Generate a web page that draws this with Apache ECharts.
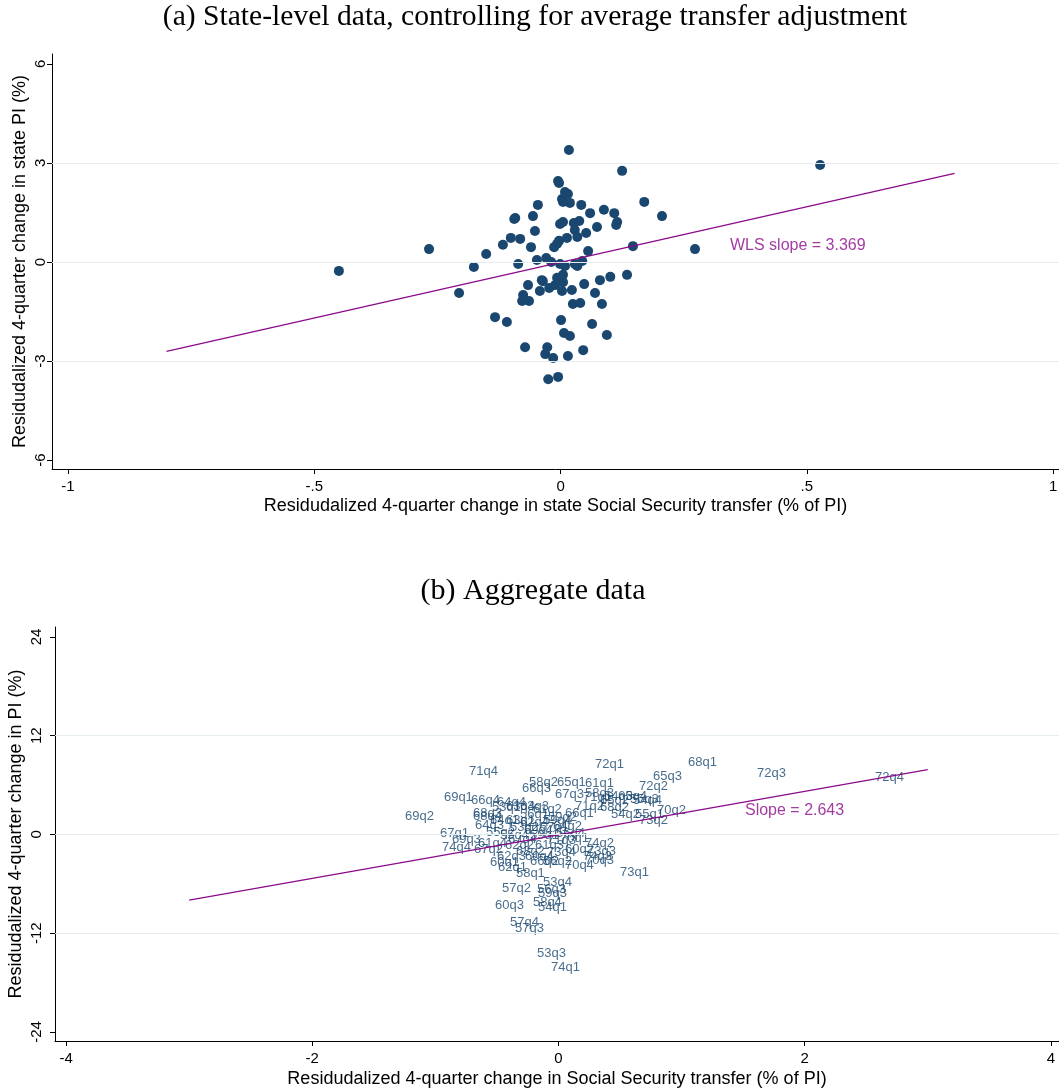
<!DOCTYPE html>
<html><head><meta charset="utf-8">
<script src="https://cdn.jsdelivr.net/npm/echarts@6/dist/echarts.min.js"></script>
<style>html,body{margin:0;padding:0;background:#fff}#c{width:1059px;height:1091px}</style>
</head><body><div id="c"></div>
<script>
// ---------- Panel (a): state-level points ----------
const stateX = [0.017,0.125,-0.005,-0.003,0.009,0.015,0.003,0.005,0.019,-0.046,0.042,0.170,0.060,0.088,0.109,-0.056,-0.092,-0.094,0.206,0.115,0.113,-0.001,0.005,0.027,0.038,-0.052,0.029,0.052,0.074,-0.101,-0.082,-0.117,0.034,0.013,-0.003,-0.007,-0.013,-0.060,-0.151,0.056,0.147,0.273,-0.048,-0.029,-0.019,-0.086,-0.001,0.009,0.029,0.034,0.044,0.135,0.101,0.080,0.048,0.005,0.005,-0.007,-0.011,-0.038,-0.036,-0.066,-0.023,-0.042,0.003,0.023,0.070,-0.076,-0.078,-0.064,0.084,0.025,0.040,-0.133,-0.109,0.001,0.064,0.007,0.019,0.094,-0.072,-0.027,-0.031,-0.015,0.015,0.046,-0.025,-0.005,-0.450,-0.267,-0.176,-0.206,0.527];
const stateY = [3.39,2.76,2.45,2.39,2.12,2.06,1.91,1.82,1.79,1.73,1.73,1.82,1.48,1.58,1.48,1.39,1.33,1.30,1.39,1.21,1.12,1.15,1.21,1.18,1.24,0.94,0.97,0.88,1.06,0.73,0.70,0.52,0.76,0.73,0.64,0.55,0.45,0.45,0.24,0.33,0.48,0.39,0.06,0.12,0.00,-0.06,-0.06,-0.12,-0.06,-0.12,0.03,-0.39,-0.45,-0.55,-0.67,-0.39,-0.61,-0.48,-0.70,-0.55,-0.58,-0.70,-0.79,-0.88,-0.88,-0.85,-0.94,-1.00,-1.18,-1.18,-1.27,-1.27,-1.24,-1.67,-1.82,-1.76,-1.88,-2.15,-2.24,-2.21,-2.58,-2.58,-2.79,-2.91,-2.85,-2.67,-3.55,-3.48,-0.27,0.39,-0.15,-0.94,2.94];
const slopeA = 3.369, interceptA = -0.01, fitRangeA = [-0.8, 0.8];
const labelA = 'WLS slope = 3.369', labelAPos = [0.344, 0.485];
const ticksAX = [-1, -0.5, 0, 0.5, 1];
const ticksAY = [-6, -3, 0, 3, 6];
const gridAY = [-3, 0, 3];

// ---------- Panel (b): aggregate quarterly points ----------
const aggLabels = ['53q1','53q2','53q3','53q4','54q1','54q2','54q3','54q4','55q1','55q2','55q3','55q4','56q1','56q2','56q3','56q4','57q1','57q2','57q3','57q4','58q1','58q2','58q3','58q4','59q1','59q2','59q3','59q4','60q1','60q2','60q3','60q4','61q1','61q2','61q3','61q4','62q1','62q2','62q3','62q4','63q1','63q2','63q3','63q4','64q1','64q2','64q3','64q4','65q1','65q2','65q3','65q4','66q1','66q2','66q3','66q4','67q1','67q2','67q3','67q4','68q1','68q2','68q3','68q4','69q1','69q2','69q3','69q4','70q1','70q2','70q3','70q4','71q1','71q2','71q3','71q4','72q1','72q2','72q3','72q4','73q1','73q2','73q3','73q4','74q1','74q2','74q3','74q4'];
const aggX = [-0.565,-0.418,-0.199,-0.150,-0.191,0.402,0.345,0.581,0.597,-0.613,0.556,-0.500,-0.337,-0.150,-0.199,-0.045,-0.175,-0.483,-0.378,-0.418,-0.370,-0.264,0.191,-0.232,-0.256,-0.110,-0.191,-0.150,-0.581,0.028,-0.540,-0.297,0.191,-0.232,-0.215,-0.678,-0.516,-0.459,-0.524,-0.337,-0.451,-0.370,-0.337,-0.451,-0.581,-0.069,-0.703,-0.524,-0.037,0.313,0.743,0.459,0.028,-0.256,-0.321,-0.735,-0.987,-0.711,-0.053,-0.435,1.028,0.313,-0.719,-0.719,-0.955,-1.271,-0.890,-0.305,-0.012,0.776,0.191,0.028,0.175,0.110,-0.118,-0.751,0.272,0.630,1.588,2.547,0.475,0.630,0.207,-0.118,-0.085,0.191,0.175,-0.971];
const aggY = [3.22,0.79,-14.52,-5.89,-8.93,2.37,4.56,4.07,2.37,0.30,4.31,-0.18,2.37,-3.34,-6.74,0.18,0.79,-6.62,-11.48,-10.75,-4.68,6.26,5.04,-8.32,-0.18,2.01,-7.11,1.64,-3.46,-1.88,-8.57,-2.73,6.14,2.98,-1.28,-1.15,-4.07,-1.28,-2.73,1.40,1.64,-2.01,3.46,3.34,1.76,1.03,1.15,3.83,6.26,4.19,6.99,4.56,2.61,-3.34,5.53,4.07,0.06,-1.88,4.80,-0.55,8.69,3.22,2.61,2.13,4.44,2.13,-0.55,0.43,-0.43,2.86,-3.22,-3.71,4.44,3.46,-0.67,7.60,8.45,5.77,7.35,6.87,-4.56,1.76,-2.01,-2.13,-16.22,-1.15,-2.73,-1.52];
const slopeB = 2.643, interceptB = -0.05, fitRangeB = [-3, 3];
const labelB = 'Slope = 2.643', labelBPos = [1.515, 2.86];
const ticksBX = [-4, -2, 0, 2, 4];
const ticksBY = [-24, -12, 0, 12, 24];
const gridBY = [-12, 0, 12];

const titleA = '(a) State-level data, controlling for average transfer adjustment';
const titleB = '(b) Aggregate data';
const xNameA = 'Residudalized 4-quarter change in state Social Security transfer (% of PI)';
const yNameA = 'Residudalized 4-quarter change in state PI (%)';
const xNameB = 'Residudalized 4-quarter change in Social Security transfer (% of PI)';
const yNameB = 'Residudalized 4-quarter change in PI (%)';

// ---------- styling ----------
const NAVY = '#1a476f', PURPLE = '#8b0a8b', GRID = '#e4ecee';
const SANS = '"Liberation Sans", Arial, sans-serif';
const SERIF = '"Liberation Serif", "Times New Roman", serif';
const fmtA = v => v === 0 ? '0' : String(v).replace('0.', '.');

function xAx(idx, min, max, ticks, name, gap, fmt) {
  return {
    type: 'value', gridIndex: idx, min, max,
    name, nameLocation: 'middle', nameGap: gap, nameMoveOverlap: false,
    nameTextStyle: { fontFamily: SANS, fontSize: 18, color: '#000' },
    axisLine: { show: true, onZero: false, lineStyle: { color: '#000', width: 1 } },
    axisTick: { show: true, inside: false, length: 5, customValues: ticks, lineStyle: { color: '#000' } },
    axisLabel: { customValues: ticks, formatter: fmt || (v => String(v)), margin: 10, fontFamily: SANS, fontSize: 15, color: '#000' },
    splitLine: { show: false }
  };
}
function yAx(idx, min, max, ticks, name, gap, lblMargin) {
  return {
    type: 'value', gridIndex: idx, min, max,
    name, nameLocation: 'middle', nameGap: gap, nameMoveOverlap: false,
    nameTextStyle: { fontFamily: SANS, fontSize: 18, color: '#000' },
    axisLine: { show: true, onZero: false, lineStyle: { color: '#000', width: 1 } },
    axisTick: { show: true, inside: false, length: 5, customValues: ticks, lineStyle: { color: '#000' } },
    axisLabel: { customValues: ticks, rotate: 90, margin: lblMargin, fontFamily: SANS, fontSize: 15, color: '#000', formatter: v => String(v) },
    splitLine: { show: false }
  };
}
function gridSeries(idx, vals) {
  return {
    type: 'line', xAxisIndex: idx, yAxisIndex: idx, data: [], z: 1, silent: true,
    markLine: { silent: true, symbol: 'none', label: { show: false }, animation: false,
      lineStyle: { color: GRID, width: 1, type: 'solid' },
      data: vals.map(v => ({ yAxis: v })) }
  };
}
function fitSeries(idx, slope, icpt, range) {
  return {
    type: 'line', xAxisIndex: idx, yAxisIndex: idx, z: 4, symbol: 'none', silent: true,
    lineStyle: { color: PURPLE, width: 1.3 },
    data: range.map(x => [x, icpt + slope * x])
  };
}
function textSeries(idx, txt, pos) {
  return {
    type: 'scatter', xAxisIndex: idx, yAxisIndex: idx, z: 5, symbolSize: 0, silent: true,
    data: [{ value: pos, name: txt }],
    label: { show: true, position: 'right', distance: 0, formatter: '{b}', color: PURPLE, fontFamily: SANS, fontSize: 16 }
  };
}

const option = {
  animation: false,
  backgroundColor: '#fff',
  graphic: [
    { type: 'text', x: 535, y: 17, style: { text: titleA, fill: '#000', font: '29.6px ' + SERIF, align: 'center', verticalAlign: 'middle' } },
    { type: 'text', x: 533, y: 591, style: { text: titleB, fill: '#000', font: '30px ' + SERIF, align: 'center', verticalAlign: 'middle' } }
  ],
  grid: [
    { left: 52, top: 54, width: 1007, height: 415, containLabel: false, outerBoundsMode: 'none' },
    { left: 55, top: 627, width: 1004, height: 414, containLabel: false, outerBoundsMode: 'none' }
  ],
  xAxis: [
    xAx(0, -1.0325, 1.012, ticksAX, xNameA, 28, fmtA),
    xAx(1, -4.09, 4.066, ticksBX, xNameB, 29)
  ],
  yAxis: [
    yAx(0, -6.27, 6.30, ticksAY, yNameA, 23, 4),
    yAx(1, -25.1, 25.2, ticksBY, yNameB, 30, 11)
  ],
  series: [
    gridSeries(0, gridAY),
    {
      type: 'scatter', xAxisIndex: 0, yAxisIndex: 0, z: 3, symbolSize: 10,
      itemStyle: { color: NAVY, opacity: 1 },
      data: stateX.map((x, i) => [x, stateY[i]])
    },
    fitSeries(0, slopeA, interceptA, fitRangeA),
    textSeries(0, labelA, labelAPos),

    gridSeries(1, gridBY),
    {
      type: 'scatter', xAxisIndex: 1, yAxisIndex: 1, z: 3, symbolSize: 0,
      itemStyle: { color: 'rgba(0,0,0,0)' },
      labelLayout: { hideOverlap: false },
      data: aggX.map((x, i) => ({ value: [x, aggY[i]], name: aggLabels[i] })),
      label: { show: true, position: 'right', distance: 3, formatter: '{b}', color: NAVY, fontFamily: SANS, fontSize: 13 }
    },
    fitSeries(1, slopeB, interceptB, fitRangeB),
    textSeries(1, labelB, labelBPos)
  ]
};
const chart = echarts.init(document.getElementById('c'), null, { renderer: 'canvas' });
chart.setOption(option);
</script>
</body></html>
